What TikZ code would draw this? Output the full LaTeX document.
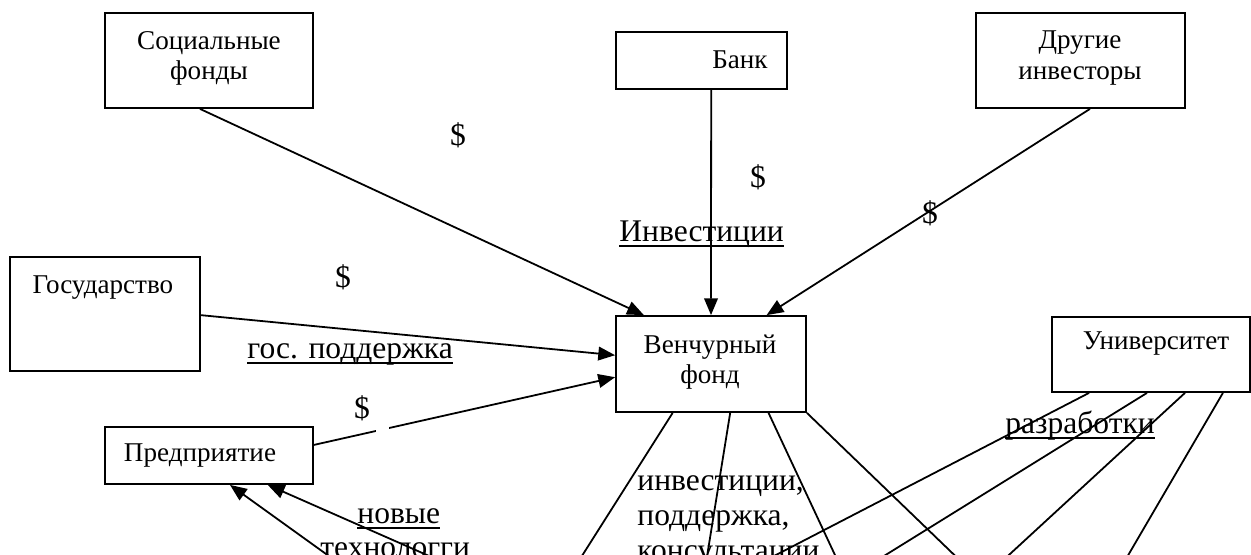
\documentclass[tikz,border=0pt]{standalone}
\usepackage{fontspec}
\setmainfont{Liberation Serif}
\usetikzlibrary{arrows.meta,calc}
\newlength\pxu \setlength\pxu{0.4757pt}
\newcommand\ulx[1]{\setbox0\hbox{#1}\rlap{\rule[-2.9pt]{\wd0}{0.9pt}}\box0}
\begin{document}
\begin{tikzpicture}[x=0.4757pt,y=-0.4757pt,
  box/.style={draw, line width=0.85pt, inner sep=0pt},
  btext/.style={font=\fontsize{12.9}{14.3}\selectfont, align=center, inner sep=0pt},
  lbl/.style={font=\fontsize{15}{16.6}\selectfont, inner sep=0pt},
  con/.style={line width=0.85pt},
  arr/.style={con, -{Triangle[length=8pt,width=6.5pt]}},
]
\useasboundingbox (0,0) rectangle (1251,554);
\clip (0,0) rectangle (1251,554);

% boxes
\node[box, minimum width=208*\pxu, minimum height=95*\pxu] (soc) at (209,60.5) {};
\node[box, minimum width=171*\pxu, minimum height=57*\pxu] (bank) at (701.5,60.5) {};
\node[box, minimum width=209*\pxu, minimum height=95*\pxu] (oth) at (1080.5,60.5) {};
\node[box, minimum width=190*\pxu, minimum height=114*\pxu] (gos) at (105,314) {};
\node[box, minimum width=208*\pxu, minimum height=57*\pxu] (pred) at (209,455.5) {};
\node[box, minimum width=190*\pxu, minimum height=96*\pxu] (fund) at (711,364) {};
\node[box, minimum width=198*\pxu, minimum height=75*\pxu] (univ) at (1151,354.5) {};

% box texts
\node[btext] (socT) at (209,58) {Социальные\\фонды};
\node[btext] (bankT) at (740,60) {Банк};
\node[btext] (othT) at (1080,58) {Другие\\инвесторы};
\node[btext] (gosT) at (103,288) {Государство};
\node[btext] (predT) at (200,456) {Предприятие};
\node[btext] (fundT) at (710,362) {Венчурный\\фонд};
\node[btext] (univT) at (1156,344) {Университет};

% free ends below the picture
\coordinate (fa) at (554,600);
\coordinate (fb) at (700,600);
\coordinate (fc) at (856,600);
\coordinate (fd) at (1001,600);
\coordinate (ua) at (689,600);
\coordinate (ub) at (813,600);
\coordinate (uc) at (960,600);
\coordinate (ud) at (1102,600);
\coordinate (pa) at (390,600);
\coordinate (pb) at (529,600);

% arrows into the fund
\draw[arr] ($(soc.south west)!0.457!(soc.south east)$) -- ($(fund.north west)!0.15!(fund.north east)$);
\draw[arr] ($(bank.south west)!0.556!(bank.south east)$) -- ($(fund.north west)!0.5!(fund.north east)$);
\draw[arr] ($(oth.south west)!0.545!(oth.south east)$) -- ($(fund.north west)!0.79!(fund.north east)$);
\draw[arr] ($(gos.north east)!0.51!(gos.south east)$) -- ($(fund.north west)!0.41!(fund.south west)$);
\draw[arr] ($(pred.north east)!0.32!(pred.south east)$) -- ($(fund.north west)!0.635!(fund.south west)$);
\fill[white] (376,424) rectangle (389,440);

% arrows into the enterprise
\draw[arr] (pa) -- ($(pred.south west)!0.6!(pred.south east)$);
\draw[arr] (pb) -- ($(pred.south west)!0.78!(pred.south east)$);

% lines from the fund
\draw[con] ($(fund.south west)!0.3!(fund.south east)$) -- (fa);
\draw[con] ($(fund.south west)!0.6!(fund.south east)$) -- (fb);
\draw[con] ($(fund.south west)!0.8!(fund.south east)$) -- (fc);
\draw[con] (fund.south east) -- (fd);

% lines from the university
\draw[con] ($(univ.south west)!0.19!(univ.south east)$) -- (ua);
\draw[con] ($(univ.south west)!0.48!(univ.south east)$) -- (ub);
\draw[con] ($(univ.south west)!0.67!(univ.south east)$) -- (uc);
\draw[con] ($(univ.south west)!0.86!(univ.south east)$) -- (ud);

% labels
\node[lbl] (d1) at (458,135) {\$};
\node[lbl] (d2) at (758,177) {\$};
\node[lbl] (d3) at (930,213) {\$};
\node[lbl] (d4) at (343,277) {\$};
\node[lbl] (d5) at (362,408) {\$};
\node[lbl, anchor=base west] (inv) at (619,241) {\ulx{Инвестиции}};
\node[lbl, anchor=base west] (gp) at (247,358) {\ulx{гос. поддержка}};
\node[lbl, anchor=base west] (nov) at (357,523) {\ulx{новые}};
\node[lbl, anchor=base west] (tech) at (320,557) {технологги};
\node[lbl, anchor=base west] (i1) at (637,490) {инвестиции,};
\node[lbl, anchor=base west] (i2) at (637,525) {поддержка,};
\node[lbl, anchor=base west] (i3) at (637,560) {консультации};
\node[lbl, anchor=base west] (razr) at (1005,433) {\ulx{разработки}};
\end{tikzpicture}
\end{document}
